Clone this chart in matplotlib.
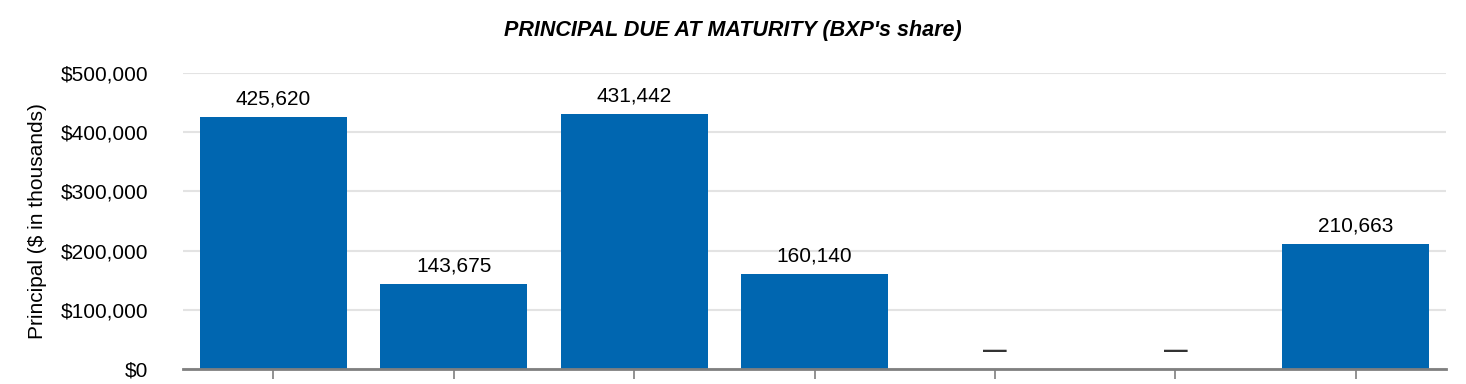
import matplotlib
matplotlib.use("Agg")
from matplotlib import pyplot as plt
from matplotlib.ticker import FuncFormatter

plt.rcParams['font.family'] = ['Liberation Sans', 'DejaVu Sans']

# principal due at maturity, $ in thousands
years = ['2024', '2025', '2026', '2027', '2028', '2029', 'Thereafter']
principal = [425620, 143675, 431442, 160140, 0, 0, 210663]

fig = plt.figure(figsize=(14.66, 3.84), dpi=100)
ax = fig.add_axes([0.1248, 0.039, 0.8616, 0.771])

x = range(len(years))
bars = ax.bar(x, principal, width=0.815, color='#0066b0', zorder=2)

for xi, v in zip(x, principal):
    if v:
        ax.annotate(f'{v:,}', (xi, v), xytext=(0, 6), textcoords='offset points',
                    ha='center', va='bottom', fontsize=15, color='#000000')
    else:
        # nothing due -> dash
        ax.annotate('\u2014', (xi, v), xytext=(0, 5), textcoords='offset points',
                    ha='center', va='bottom', fontsize=17, fontweight='bold',
                    color='#333333')

ax.set_xlim(-0.5, 6.5)
ax.set_ylim(0, 500000)
ax.set_yticks(range(0, 500001, 100000))
ax.yaxis.set_major_formatter(FuncFormatter(lambda v, p: f'${v:,.0f}'))
ax.set_xticks(list(x))
ax.set_xticklabels([])
ax.grid(axis='y', color='#e3e3e3', linewidth=1.5, zorder=0)
ax.set_axisbelow(True)

for s in ['top', 'right', 'left']:
    ax.spines[s].set_visible(False)
ax.spines['bottom'].set_color('#7f7f7f')
ax.spines['bottom'].set_linewidth(2)
ax.tick_params(axis='y', length=0, labelsize=15, pad=25)
ax.tick_params(axis='x', length=7, width=1.2, color='#7f7f7f', direction='out')

ax.set_ylabel('Principal ($ in thousands)', fontsize=15, labelpad=10)
fig.text(0.5, 0.92, "PRINCIPAL DUE AT MATURITY (BXP's share)", ha='center', va='center',
         fontsize=15.5, fontweight='bold', fontstyle='italic')

fig.savefig('out.png', dpi=100)
